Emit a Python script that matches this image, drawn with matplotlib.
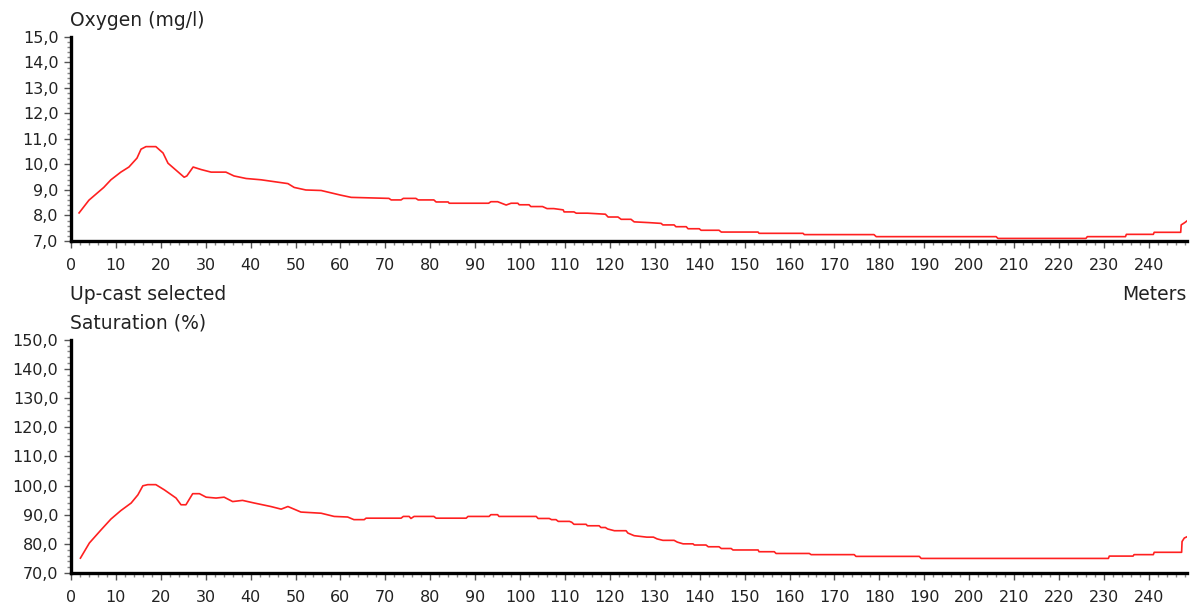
import matplotlib
matplotlib.use("Agg")
import matplotlib.pyplot as plt
from matplotlib.ticker import MultipleLocator, FuncFormatter

# depth (m) and oxygen (mg/l)
oxy_depth = [1.8, 4.0, 7.3, 8.9, 11.1, 12.9, 14.7, 15.6, 16.7, 18.9, 20.5, 21.6, 25.2, 25.8,
             27.2, 29.0, 31.2, 34.5, 36.3, 39.0, 42.3, 48.3, 49.7, 52.3, 55.7, 60.0, 62.4,
             70.8, 71.3, 73.5, 74.0, 76.8, 77.3, 80.8, 81.3, 84.0, 84.2, 93.0, 93.5, 95.0,
             96.9, 98.0, 99.5, 99.8, 102.0, 102.4, 105.0, 106.0, 107.5, 109.6, 109.8, 112.0,
             112.5, 115.0, 119.0, 119.6, 121.8, 122.5, 124.7, 125.4, 128.7, 131.4, 131.8,
             134.3, 134.7, 137.0, 137.4, 139.9, 140.3, 144.3, 144.8, 153.0, 153.2, 163.0,
             163.3, 178.8, 179.3, 206.0, 206.4, 226.0, 226.3, 234.8, 235.0, 241.0, 241.2,
             247.1, 247.2, 248.0, 248.6]
oxy_value = [8.1, 8.6, 9.1, 9.4, 9.7, 9.9, 10.25, 10.6, 10.7, 10.7, 10.45, 10.05, 9.5, 9.55,
             9.9, 9.8, 9.7, 9.7, 9.55, 9.45, 9.4, 9.25, 9.1, 9.0, 8.98, 8.8, 8.71,
             8.67, 8.61, 8.61, 8.67, 8.67, 8.61, 8.61, 8.53, 8.53, 8.48, 8.48, 8.54, 8.54,
             8.41, 8.48, 8.48, 8.42, 8.42, 8.35, 8.35, 8.27, 8.27, 8.22, 8.14, 8.14,
             8.09, 8.09, 8.05, 7.94, 7.94, 7.85, 7.85, 7.75, 7.72, 7.69, 7.63,
             7.63, 7.56, 7.56, 7.48, 7.48, 7.42, 7.42, 7.35, 7.35, 7.30, 7.30,
             7.25, 7.25, 7.17, 7.17, 7.10, 7.10, 7.17, 7.17, 7.26, 7.26, 7.34,
             7.34, 7.63, 7.72, 7.8]

# depth (m) and saturation (%)
sat_depth = [2.1, 4.1, 6.7, 8.9, 11.1, 13.4, 14.9, 16.0, 17.1, 18.9, 20.8, 23.4, 24.5, 25.6,
             27.1, 28.6, 30.1, 32.3, 34.1, 36.0, 38.2, 40.8, 44.5, 46.8, 48.3, 51.2, 55.7,
             58.6, 61.6, 63.0, 65.3, 65.7, 73.5, 74.0, 75.3, 75.7, 76.4, 80.8, 81.3, 88.0,
             88.4, 93.1, 93.5, 95.0, 95.3, 103.6, 104.0, 106.5, 107.0, 108.0, 108.5, 111.0,
             111.5, 112.0, 114.7, 115.0, 117.6, 118.0, 119.0, 119.5, 121.0, 123.6, 124.0,
             125.4, 128.2, 129.7, 130.5, 131.8, 134.3, 135.0, 136.3, 138.5, 138.8, 141.4,
             141.9, 144.3, 144.8, 147.0, 147.4, 153.0, 153.2, 156.6, 157.0, 164.4, 164.8,
             174.4, 174.8, 188.9, 189.3, 231.0, 231.2, 236.5, 236.7, 241.0, 241.2, 247.3,
             247.4, 247.9, 248.6]
sat_value = [75.1, 80.3, 84.8, 88.5, 91.4, 94.0, 96.8, 99.9, 100.3, 100.3, 98.5, 95.7, 93.4, 93.4,
             97.2, 97.2, 96.0, 95.7, 96.0, 94.5, 94.9, 94.0, 92.8, 91.9, 92.8, 90.9, 90.5,
             89.4, 89.2, 88.3, 88.3, 88.8, 88.8, 89.4, 89.4, 88.7, 89.4, 89.4, 88.8, 88.8,
             89.4, 89.4, 90.0, 90.0, 89.4, 89.4, 88.7, 88.7, 88.3, 88.3, 87.7, 87.7,
             87.4, 86.7, 86.7, 86.2, 86.2, 85.6, 85.6, 85.1, 84.5, 84.5, 83.7,
             82.8, 82.3, 82.3, 81.7, 81.2, 81.2, 80.6, 80.0, 80.0, 79.6, 79.6,
             79.0, 79.0, 78.4, 78.4, 77.9, 77.9, 77.3, 77.3, 76.7, 76.7, 76.3,
             76.3, 75.7, 75.7, 75.0, 75.0, 75.8, 75.8, 76.3, 76.3, 77.1, 77.1,
             80.8, 82.0, 82.5]

x_max = 248.5
font = "DejaVu Sans"
tick_fs = 11.5
label_fs = 13.5

fig = plt.figure(figsize=(12.03, 6.09), dpi=100)
ax1 = fig.add_axes([0.059, 0.6043, 0.9277, 0.3350])
ax2 = fig.add_axes([0.059, 0.0591, 0.9277, 0.3831])

comma = FuncFormatter(lambda v, p: f"{v:.1f}".replace(".", ","))

def style(ax, lo, hi, major, minor):
    ax.set_xlim(0, x_max)
    ax.set_ylim(lo, hi)
    for s in ["top", "right"]:
        ax.spines[s].set_visible(False)
    for s in ["left", "bottom"]:
        ax.spines[s].set_linewidth(2.4)
        ax.spines[s].set_color("black")
    ax.xaxis.set_major_locator(MultipleLocator(10))
    ax.xaxis.set_minor_locator(MultipleLocator(2))
    ax.yaxis.set_major_locator(MultipleLocator(major))
    ax.yaxis.set_minor_locator(MultipleLocator(minor))
    ax.yaxis.set_major_formatter(comma)
    ax.tick_params(which="major", length=5, width=1, color="#555555",
                   labelsize=tick_fs, labelcolor="#222222", pad=4)
    ax.tick_params(which="minor", length=3, width=1, color="#888888")
    ax.tick_params(axis="x", pad=7)
    for lab in ax.get_xticklabels() + ax.get_yticklabels():
        lab.set_fontfamily(font)

ax1.plot(oxy_depth, oxy_value, color="#ff2020", lw=1.2)
ax2.plot(sat_depth, sat_value, color="#ff2020", lw=1.2)
style(ax1, 7, 15, 1, 0.2)
style(ax2, 70, 150, 10, 2)

fig.text(0.058, 0.967, "Oxygen (mg/l)", fontsize=label_fs, family=font, va="center", color="#222222")
fig.text(0.058, 0.5156, "Up-cast selected", fontsize=label_fs, family=font, va="center", color="#222222")
fig.text(0.9865, 0.5156, "Meters", fontsize=label_fs, family=font, va="center", ha="right", color="#222222")
fig.text(0.058, 0.4696, "Saturation (%)", fontsize=label_fs, family=font, va="center", color="#222222")

fig.savefig("out.png", dpi=100)
